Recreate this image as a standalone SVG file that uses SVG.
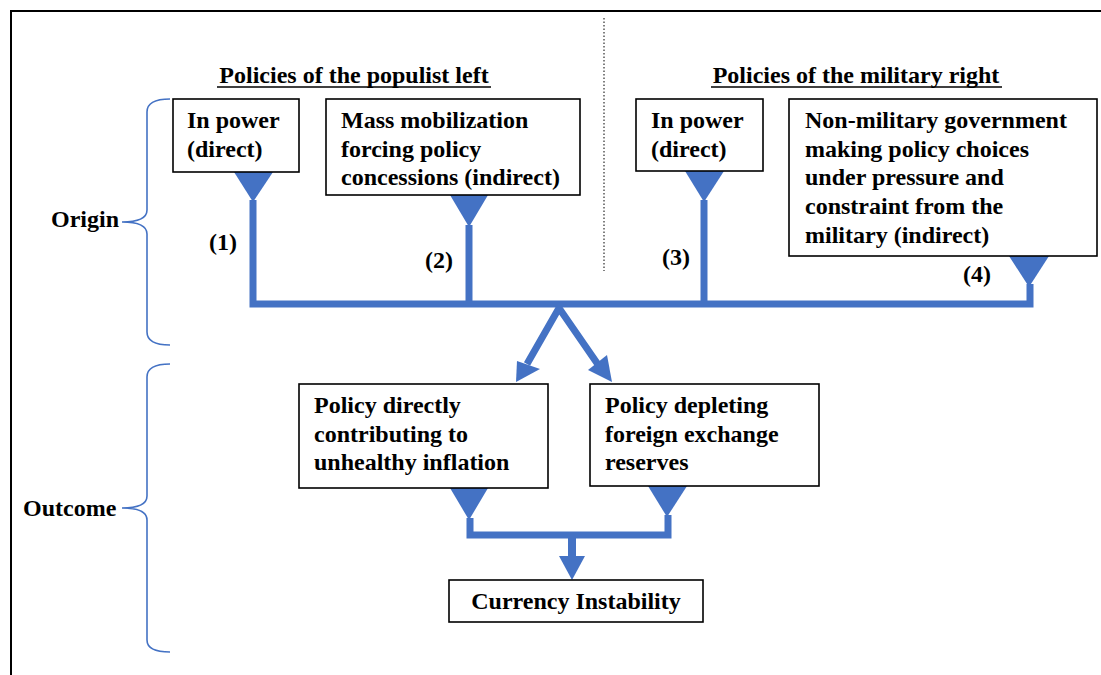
<svg xmlns="http://www.w3.org/2000/svg" width="1101" height="675" viewBox="0 0 1101 675">
<style>
text{font-family:"Liberation Serif","Times New Roman",serif;font-weight:bold;font-size:24px;fill:#000}
.box{fill:#fff;stroke:#000;stroke-width:1.6}
.conn{fill:none;stroke:#4472C4;stroke-width:7;stroke-linejoin:miter;stroke-linecap:butt}
.tri{fill:#4472C4}
.brace{fill:none;stroke:#4472C4;stroke-width:1.6}
</style>
<rect x="0" y="0" width="1101" height="675" fill="#fff"/>
<rect x="11" y="11" width="1100" height="680" fill="none" stroke="#000" stroke-width="2"/>
<line x1="604" y1="18" x2="604" y2="271" stroke="#000" stroke-width="1" stroke-dasharray="1.5 2"/>
<g id="heading-left">
<text x="354" y="83" text-anchor="middle">Policies of the populist left</text>
<line x1="217" y1="87" x2="491" y2="87" stroke="#000" stroke-width="1.5"/>
</g>
<g id="heading-right">
<text x="856" y="83" text-anchor="middle">Policies of the military right</text>
<line x1="711" y1="87" x2="1002" y2="87" stroke="#000" stroke-width="1.5"/>
</g>
<g id="brace-origin">
<path class="brace" d="M170,99 Q147,99 147,112 V210 Q147,222 122,222 Q147,222 147,234 V332 Q147,345 170,345"/>
<text x="51" y="227">Origin</text>
</g>
<g id="brace-outcome">
<path class="brace" d="M170,364 Q147,364 147,377 V496 Q147,508 122,508 Q147,508 147,520 V640 Q147,652 170,652"/>
<text x="23" y="516">Outcome</text>
</g>
<g id="connectors">
<path class="conn" d="M253,200 V304 H1030 V284"/>
<path class="conn" d="M469,225 V304"/>
<path class="conn" d="M704,200 V304"/>
<polygon class="tri" points="234,172 273,172 253,202"/>
<polygon class="tri" points="450,195 488,195 469,227"/>
<polygon class="tri" points="685,171 724,171 704,202"/>
<polygon class="tri" points="1009,256 1049,256 1029,287"/>
<path class="conn" d="M527,364 L559,308 L599,366"/>
<polygon class="tri" points="516,382 517,361 540,369"/>
<polygon class="tri" points="612,382 588,370 607,355"/>
<path class="conn" d="M470,518 V535 H668 V515"/>
<line x1="572" y1="535" x2="572" y2="558" stroke="#4472C4" stroke-width="8"/>
<polygon class="tri" points="559,556 585,556 572,580"/>
<polygon class="tri" points="450,488 488,488 469,520"/>
<polygon class="tri" points="648,486 687,486 667,517"/>
<text x="209" y="250">(1)</text>
<text x="425" y="268">(2)</text>
<text x="662" y="265">(3)</text>
<text x="963" y="282">(4)</text>
</g>
<g id="node-left-inpower">
<rect class="box" x="173" y="99" width="126" height="73"/>
<text x="187" y="128">In power</text>
<text x="187" y="156.5">(direct)</text>
</g>
<g id="node-mass-mobilization">
<rect class="box" x="326" y="99" width="254" height="96"/>
<text x="341" y="128">Mass mobilization</text>
<text x="341" y="156.5">forcing policy</text>
<text x="341" y="185">concessions (indirect)</text>
</g>
<g id="node-right-inpower">
<rect class="box" x="636" y="99" width="127" height="72"/>
<text x="651" y="128">In power</text>
<text x="651" y="156.5">(direct)</text>
</g>
<g id="node-non-military">
<rect class="box" x="789" y="99" width="308" height="157"/>
<text x="805" y="128">Non-military government</text>
<text x="805" y="156.7">making policy choices</text>
<text x="805" y="185.4">under pressure and</text>
<text x="805" y="214.1">constraint from the</text>
<text x="805" y="242.8">military (indirect)</text>
</g>
<g id="node-inflation">
<rect class="box" x="299" y="384" width="249" height="104"/>
<text x="314" y="413">Policy directly</text>
<text x="314" y="441.5">contributing to</text>
<text x="314" y="470">unhealthy inflation</text>
</g>
<g id="node-reserves">
<rect class="box" x="590" y="384" width="229" height="102"/>
<text x="605" y="413">Policy depleting</text>
<text x="605" y="441.5">foreign exchange</text>
<text x="605" y="470">reserves</text>
</g>
<g id="node-currency">
<rect class="box" x="449" y="580" width="254" height="42"/>
<text x="576" y="609" text-anchor="middle">Currency Instability</text>
</g>
</svg>
